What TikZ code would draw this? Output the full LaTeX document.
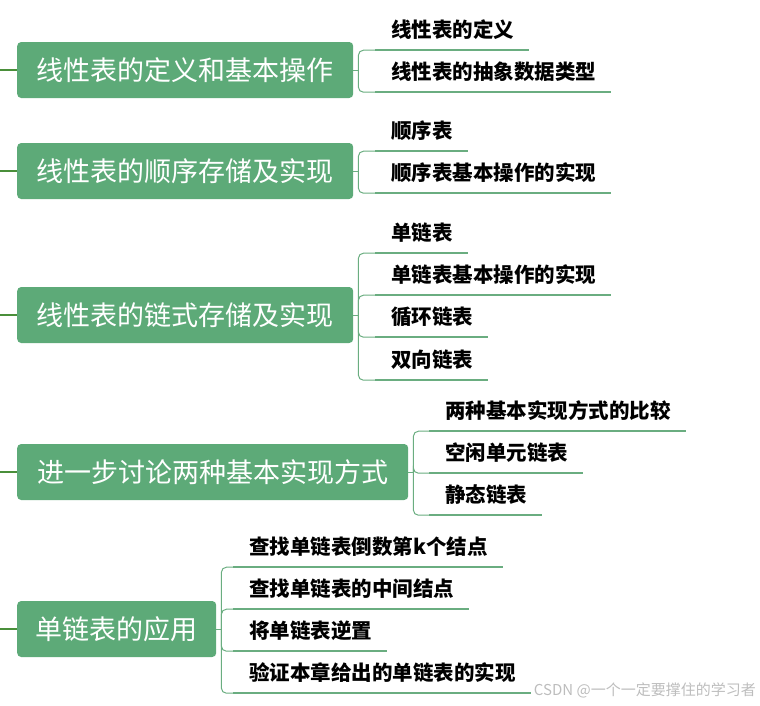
\documentclass[tikz,border=0pt]{standalone}
\usepackage{fontspec}
\setmainfont{Noto Sans CJK SC}
\usetikzlibrary{calc}
\definecolor{leaf}{HTML}{5DAA78}
\definecolor{stem}{HTML}{4A8F3A}
\definecolor{twig}{HTML}{6AAD80}
\definecolor{mark}{HTML}{BDBDBD}

\begin{document}
\begin{tikzpicture}[
  x=1pt, y=-1pt,
  topic/.style={
    fill=leaf,
    rounded corners=4pt,
    text=white,
    minimum height=56pt,
    inner xsep=0pt,
    anchor=west,
    align=center,
    font=\fontsize{27}{27}\selectfont
  },
  item/.style={
    anchor=west,
    inner sep=0pt,
    minimum height=40pt,
    text=black,
    font=\fontsize{20.5}{20.5}\selectfont\bfseries
  },
  root/.style={draw=stem, line width=2pt},
  branch/.style={draw=twig, line width=1pt, rounded corners=5pt},
  under/.style={draw=twig, line width=2pt}
]

\useasboundingbox (0,0) rectangle (760,705);

\node[topic, minimum width=336pt] (defn) at (17,70) {线性表的定义和基本操作};
\node[topic, minimum width=336pt] (seq) at (17,171) {线性表的顺序存储及实现};
\node[topic, minimum width=336pt] (link) at (17,315) {线性表的链式存储及实现};
\node[topic, minimum width=391pt] (more) at (17,472) {进一步讨论两种基本实现方式};
\node[topic, minimum width=199pt] (app) at (17,629) {单链表的应用};

\node[item] (defn1) at (391,30) {线性表的定义};
\node[item] (defn2) at (391,72) {线性表的抽象数据类型};

\node[item] (seq1) at (391,131) {顺序表};
\node[item] (seq2) at (391,173) {顺序表基本操作的实现};

\node[item] (link1) at (391,233) {单链表};
\node[item] (link2) at (391,275) {单链表基本操作的实现};
\node[item] (link3) at (391,317) {循环链表};
\node[item] (link4) at (391,360) {双向链表};

\node[item] (more1) at (445,411) {两种基本实现方式的比较};
\node[item] (more2) at (445,453) {空闲单元链表};
\node[item] (more3) at (445,495) {静态链表};

\node[item] (app1) at (249,547) {查找单链表倒数第k个结点};
\node[item] (app2) at (249,589) {查找单链表的中间结点};
\node[item] (app3) at (249,631) {将单链表逆置};
\node[item] (app4) at (249,673) {验证本章给出的单链表的实现};

\node[anchor=east, inner sep=0pt, text=mark, font=\fontsize{15}{15}\selectfont] (wm)
  at (756,690) {CSDN @一个一定要撑住的学习者};

\foreach \t/\kids in {defn/{defn1,defn2}, seq/{seq1,seq2},
    link/{link1,link2,link3,link4}, more/{more1,more2,more3},
    app/{app1,app2,app3,app4}} {
  \coordinate (\t root) at (\t.west -| 0,0);
  \coordinate (\t fork) at ($(\t.east)+(5,0)$);
  \draw[root] (\t root) -- (\t.west);
  \draw[branch] (\t.east) -- (\t fork);
  \foreach \k in \kids {
    \draw[branch] (\t fork) |- ($(\k.south west)+(-16,0)$);
    \draw[under] ($(\k.south west)+(-16,0)$) -- ($(\k.south east)+(15,0)$);
  }
}

\end{tikzpicture}
\end{document}
